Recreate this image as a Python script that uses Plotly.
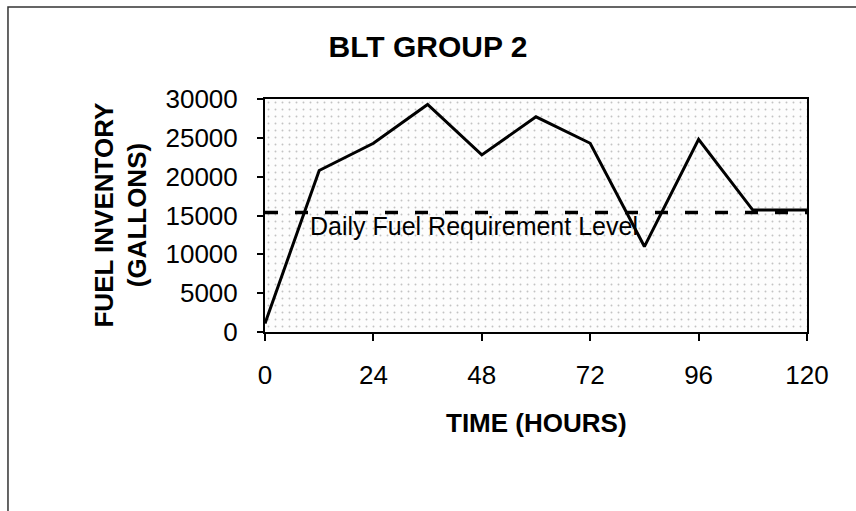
import plotly.graph_objects as go

# Fuel inventory over time, sampled every 12 hours
hours = [0, 12, 24, 36, 48, 60, 72, 84, 96, 108, 120]
gallons = [1100, 20800, 24300, 29300, 22800, 27700, 24300, 11000, 24800, 15700, 15700]

# Daily fuel requirement level (constant)
requirement = 15400

x_ticks = [0, 24, 48, 72, 96, 120]
y_ticks = [0, 5000, 10000, 15000, 20000, 25000, 30000]

FONT = "Liberation Sans, Arial, sans-serif"

fig = go.Figure()

# Stippled background of the plotting area
fig.add_trace(go.Scatter(
    x=[0, 120, 120, 0, 0], y=[0, 0, 30000, 30000, 0],
    mode="lines", line=dict(width=0), fill="toself",
    fillcolor="rgba(255,255,255,0)",
    fillpattern=dict(shape=".", size=7, solidity=0.06, fgcolor="#8a8a8a", bgcolor="#fdfdfd"),
    hoverinfo="skip", showlegend=False,
))

# Requirement level (dashed)
fig.add_trace(go.Scatter(
    x=[hours[0], hours[-1]], y=[requirement, requirement],
    mode="lines", line=dict(color="black", width=3.5, dash="13px,17px"),
    cliponaxis=False, showlegend=False, hoverinfo="skip",
))

# Inventory line
fig.add_trace(go.Scatter(
    x=hours, y=gallons, mode="lines",
    line=dict(color="black", width=3),
    showlegend=False,
))

fig.add_annotation(
    x=9.6, y=13650, xref="x", yref="y", text="Daily Fuel Requirement Level",
    showarrow=False, xanchor="left", yanchor="middle",
    font=dict(family=FONT, size=25, color="black"),
)

# Axis titles
fig.add_annotation(
    x=-0.2675, y=0.5, xref="paper", yref="paper",
    text="FUEL INVENTORY<br>(GALLONS)", textangle=-90,
    showarrow=False, xanchor="center", yanchor="middle",
    font=dict(family=FONT, size=26, color="black", weight="bold"),
)
fig.add_annotation(
    x=0.5, y=-0.39, xref="paper", yref="paper",
    text="TIME (HOURS)", showarrow=False, xanchor="center", yanchor="middle",
    font=dict(family=FONT, size=26, color="black", weight="bold"),
)

# Outer frame (top and left edges visible)
fig.add_shape(
    type="rect", xref="paper", yref="paper",
    x0=-0.4742, x1=1.1, y0=-0.8, y1=1.3948,
    line=dict(color="#333333", width=1.5), fillcolor="rgba(0,0,0,0)",
)

fig.update_layout(
    width=856, height=511,
    margin=dict(l=265, r=49, t=99, b=179),
    paper_bgcolor="white", plot_bgcolor="white",
    font=dict(family=FONT, color="black"),
    title=dict(
        text="BLT GROUP 2", x=0.5, xref="container", xanchor="center",
        y=1 - 46 / 511, yref="container", yanchor="middle",
        font=dict(family=FONT, size=30, color="black", weight="bold"),
    ),
    showlegend=False,
)

fig.update_xaxes(
    range=[0, 120], tickvals=x_ticks, ticktext=[str(v) for v in x_ticks],
    ticks="outside", ticklen=7, tickwidth=2, tickcolor="black",
    showline=True, linecolor="black", linewidth=2, mirror=True,
    showgrid=False, zeroline=False,
    tickfont=dict(family=FONT, size=26, color="black"),
    ticklabelstandoff=12,
)
fig.update_yaxes(
    range=[0, 30000], tickvals=y_ticks, ticktext=[str(v) for v in y_ticks],
    ticks="outside", ticklen=6, tickwidth=2, tickcolor="black",
    showline=True, linecolor="black", linewidth=2, mirror=True,
    showgrid=False, zeroline=False,
    tickfont=dict(family=FONT, size=26, color="black"),
    ticklabelstandoff=14,
)

fig.write_html("out.html")
